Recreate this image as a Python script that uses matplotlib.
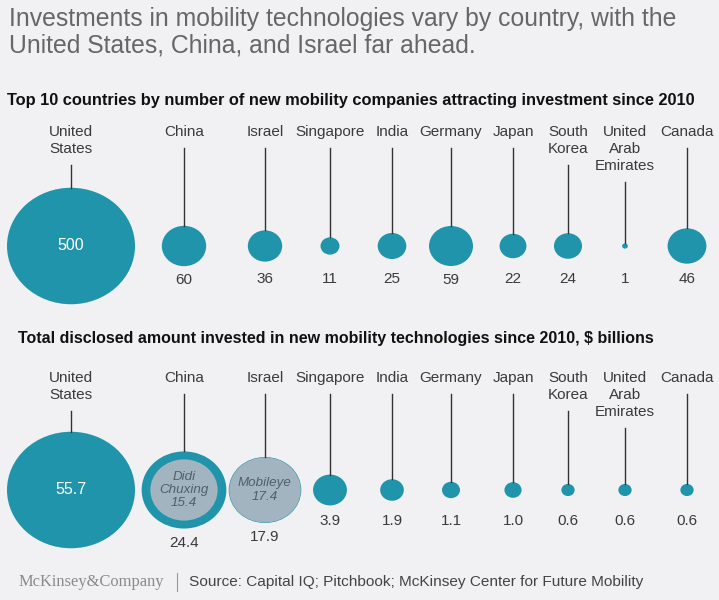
import matplotlib.pyplot as plt
from matplotlib.patches import Ellipse
import numpy as np

# data
countries = ["United\nStates", "China", "Israel", "Singapore", "India", "Germany",
             "Japan", "South\nKorea", "United\nArab\nEmirates", "Canada"]
companies = [500, 60, 36, 11, 25, 59, 22, 24, 1, 46]
invested = [55.7, 24.4, 17.9, 3.9, 1.9, 1.1, 1.0, 0.6, 0.6, 0.6]
inner_names = {1: "Didi\nChuxing", 2: "Mobileye"}
inner_values = {1: 15.4, 2: 17.4}

TEAL = "#2094ab"
GREY_IN = "#a2b4c0"
BG = "#f1f1f3"
TXT = "#3a3a3a"

plt.rcParams['font.family'] = ['Liberation Sans', 'DejaVu Sans']

fig = plt.figure(figsize=(7.19, 6), dpi=100, facecolor=BG)
ax = fig.add_axes([0, 0, 1, 1])
ax.set_xlim(0, 719)
ax.set_ylim(600, 0)
ax.axis("off")
ax.set_facecolor(BG)

col_x = [71, 184, 265, 330, 392, 451, 513, 568, 625, 687]
R_MAX = 64      # px radius of the largest circle
SQUISH = 0.91   # the original circles are a bit flattened
LINE = 17.0     # px between label lines


def draw_row(values, label_top, cy, value_y, big_fmt):
    vmax = max(values)
    for i, (name, v) in enumerate(zip(countries, values)):
        x = col_x[i]
        r = R_MAX * np.sqrt(v / vmax)
        ry = r * SQUISH
        n = name.count("\n") + 1
        ax.text(x, label_top, name, ha="center", va="top", fontsize=11,
                color=TXT, linespacing=1.25)
        ax.plot([x, x], [label_top + 6 + LINE * n, cy - ry], color="#333333", lw=1.0)
        ax.add_patch(Ellipse((x, cy), 2 * r, 2 * ry, facecolor=TEAL, edgecolor="none"))
        if i == 0:
            ax.text(x, cy, big_fmt.format(v), ha="center", va="center",
                    fontsize=11.5, color="white")
        else:
            ax.text(x, max(value_y, cy + ry + 14), big_fmt.format(v), ha="center",
                    va="center", fontsize=11, color=TXT)
    return vmax


# top row: number of companies
ax.text(9, 19, "Investments in mobility technologies vary by country, with the",
        fontsize=17.8, color="#666666", va="center")
ax.text(9, 45, "United States, China, and Israel far ahead.",
        fontsize=17.8, color="#666666", va="center")
ax.text(7, 100, "Top 10 countries by number of new mobility companies attracting investment since 2010",
        fontsize=11.8, fontweight="bold", color="#111111", va="center")
draw_row(companies, 125, 246, 279, "{:g}")

# bottom row: amount invested
ax.text(18, 339, "Total disclosed amount invested in new mobility technologies since 2010, $ billions",
        fontsize=11.5, fontweight="bold", color="#111111", va="center")
vmax2 = draw_row(invested, 371, 490, 521, "{:.1f}")

for i in inner_names:
    x = col_x[i]
    r = R_MAX * np.sqrt(inner_values[i] / vmax2)
    ax.add_patch(Ellipse((x, 490), 2 * r, 2 * r * SQUISH, facecolor=GREY_IN,
                         edgecolor="none"))
    ax.text(x, 490, inner_names[i] + "\n" + "{:.1f}".format(inner_values[i]),
            ha="center", va="center", fontsize=9.6, style="italic",
            color="#4f5f6b", linespacing=1.15)

# footer
ax.text(19, 582, "McKinsey&Company", family=["Liberation Serif", "DejaVu Serif"],
        fontsize=11.9, color="#8a8a8a", va="center")
ax.plot([177, 177], [573, 591], color="#999999", lw=0.8)
ax.text(189, 582, "Source: Capital IQ; Pitchbook; McKinsey Center for Future Mobility",
        fontsize=11.1, color="#444444", va="center")

fig.savefig("out.png", dpi=100, facecolor=BG)
